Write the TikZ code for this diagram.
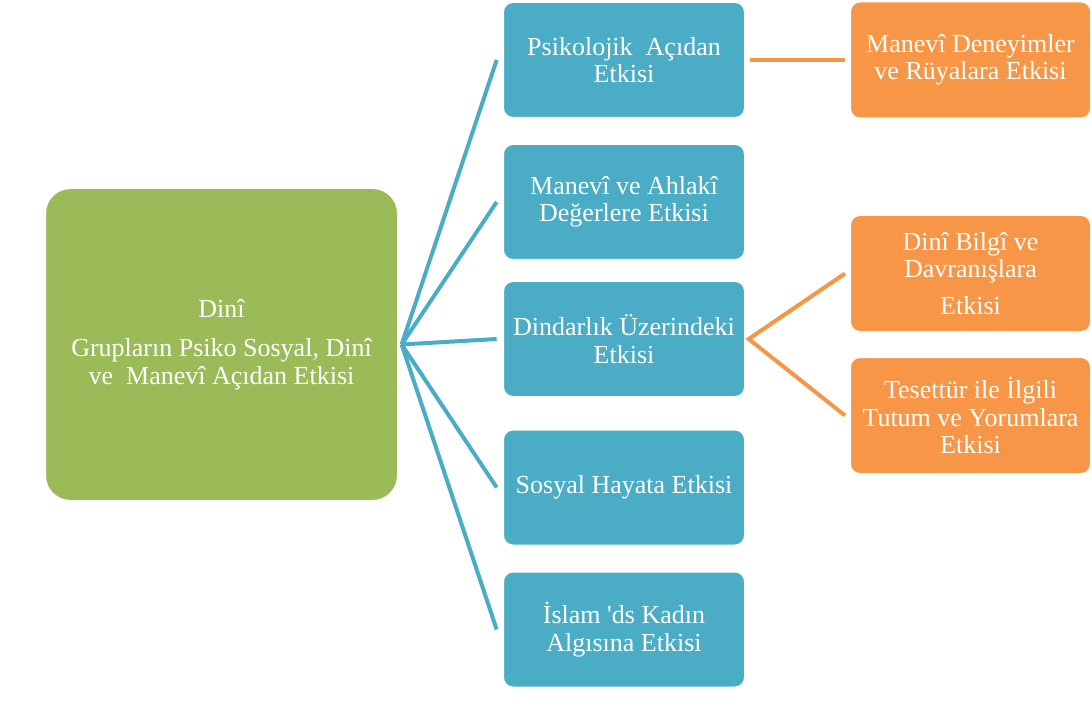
\documentclass[tikz,border=0pt]{standalone}
\usepackage{fontspec}
\setmainfont{Liberation Serif}
\definecolor{grn}{HTML}{9BBB59}
\definecolor{blu}{HTML}{4BACC6}
\definecolor{org}{HTML}{F79646}
\begin{document}
\begin{tikzpicture}[x=0.75pt,y=-0.75pt,
  box/.style={rounded corners=7.5pt,draw=white,line width=1.5pt,text=white,align=center,
    font=\fontsize{19.5}{20.5}\selectfont,inner sep=2pt},
  bluebox/.style={box,fill=blu,minimum width=181.5pt,minimum height=87pt},
  orgbox/.style={box,fill=org,minimum width=180.75pt,minimum height=87.75pt},
  bline/.style={draw=blu,line width=3pt},
  oline/.style={draw=org,line width=3pt}]
\useasboundingbox (0,0) rectangle (1092,709);
\node[box,fill=grn,minimum width=264.75pt,minimum height=234.75pt,rounded corners=19pt] (root) at (221.5,344.5)
  {Dinî\\[9pt]Grupların Psiko Sosyal, Dinî\\ve\ \ Manevî Açıdan Etkisi};
\node[bluebox] (b1) at (624,60) {Psikolojik\ \ Açıdan\\Etkisi};
\node[bluebox] (b2) at (624,202) {Manevî ve Ahlakî\\Değerlere Etkisi};
\node[bluebox] (b3) at (624,339) {Dindarlık Üzerindeki\\Etkisi};
\node[bluebox] (b4) at (624,487.5) {Sosyal Hayata Etkisi};
\node[bluebox] (b5) at (624,629.5) {İslam \textquotesingle ds Kadın\\Algısına Etkisi};
\node[orgbox] (o1) at (970.5,60) {Manevî Deneyimler\\ve Rüyalara Etkisi};
\node[orgbox] (o2) at (970.5,273.5) {Dinî Bilgî ve\\Davranışlara\\[7pt]Etkisi};
\node[orgbox] (o3) at (970.5,415.5) {Tesettür ile İlgili\\Tutum ve Yorumlara\\Etkisi};
\coordinate (rc) at ([xshift=2pt]root.east);
\foreach \b in {b1,b2,b3,b4,b5}
  \draw[bline] (rc) -- ([xshift=-4pt]\b.west);
\draw[oline] ([xshift=3pt]b1.east) -- ([xshift=-3pt]o1.west);
\draw[oline] ([xshift=-3pt]o2.west) -- ([xshift=2pt]b3.east) -- ([xshift=-3pt]o3.west);
\end{tikzpicture}
\end{document}
